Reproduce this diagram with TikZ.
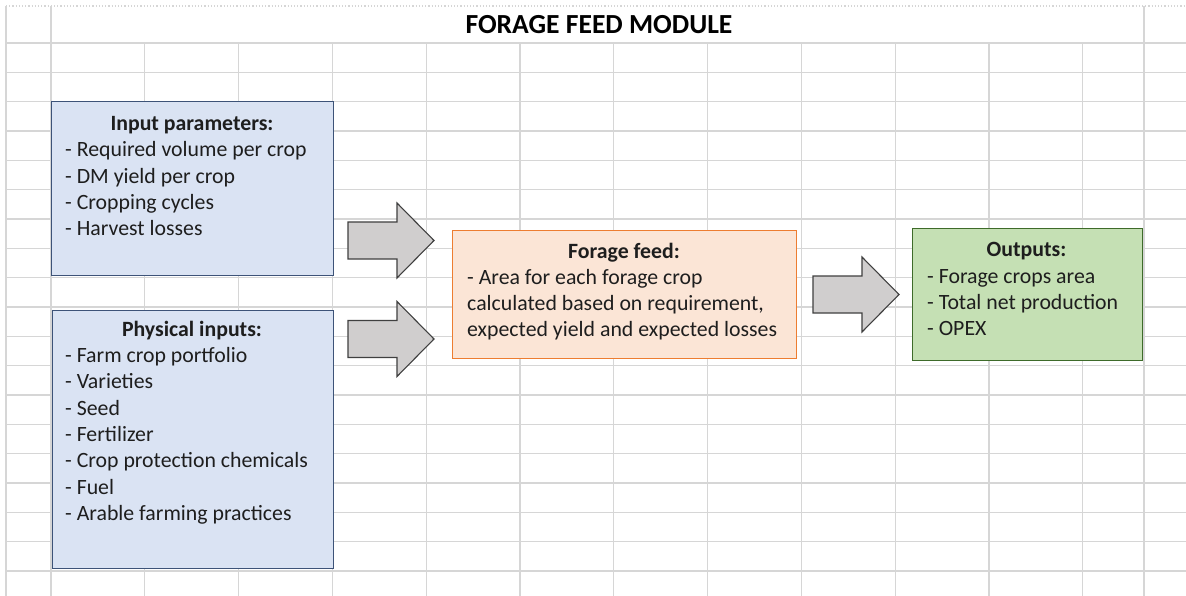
\documentclass[tikz,border=0pt]{standalone}
\usepackage{fontspec}
\setmainfont{Carlito}
\definecolor{gridc}{HTML}{D6D6D6}
\definecolor{txt}{HTML}{1E1E1E}
\definecolor{bluefill}{HTML}{DAE3F3}
\definecolor{blueline}{HTML}{3D5378}
\definecolor{orfill}{HTML}{FBE5D6}
\definecolor{orline}{HTML}{ED7D31}
\definecolor{grfill}{HTML}{C5E0B4}
\definecolor{grline}{HTML}{3E6B2A}
\definecolor{arrfill}{HTML}{D0CECE}
\definecolor{arrline}{HTML}{404040}
\tikzset{
  gridline/.style={draw=gridc, line width=1.2pt},
  boxbase/.style={rectangle, inner sep=0pt, line width=1pt},
  bluebox/.style={boxbase, fill=bluefill, draw=blueline},
  orbox/.style={boxbase, fill=orfill, draw=orline},
  grbox/.style={boxbase, fill=grfill, draw=grline},
  btitle/.style={anchor=base, inner sep=0pt, text=txt, font=\bfseries\fontsize{21.8}{26.3}\selectfont},
  maintitle/.style={anchor=base, inner sep=0pt, text=black, font=\bfseries\fontsize{27.6}{32}\selectfont},
  item/.style={anchor=base west, inner sep=0pt, text=txt, font=\fontsize{21.8}{26.3}\selectfont},
  blockarr/.style={fill=arrfill, draw=arrline, line width=1.1pt, line join=miter},
  blk/.pic={\path[blockarr] (0,-18.5) -- (49,-18.5) -- (49,-37.5) -- (86,0) -- (49,37.5) -- (49,18.5) -- (0,18.5) -- cycle;}
}
\begin{document}
\begin{tikzpicture}[x=1pt,y=-1pt]
\useasboundingbox (0,0) rectangle (1186,596);
\fill[white] (0,0) rectangle (1186,596);
% grid
\foreach \k in {0,...,18} \draw[gridline] (6,{43+29.333*\k}) -- (1186,{43+29.333*\k});
\foreach \j in {0,...,11} \draw[gridline] ({51+93.8*\j},43) -- ({51+93.8*\j},596);
\draw[gridline] (6,6) -- (6,596);
\draw[gridline] (51,6) -- (51,43);
\draw[gridline] (1144,6) -- (1144,596);
\draw[gridline, dotted] (6,6) -- (1186,6);
% title
\node[maintitle] (title) at (599,34) {FORAGE FEED MODULE};
% boxes
\node[bluebox, minimum width=282pt, minimum height=173pt] (inp) at (192,188.5) {};
\node[bluebox, minimum width=281pt, minimum height=258pt] (phy) at (192.5,439) {};
\node[orbox, minimum width=344pt, minimum height=127pt] (ff) at (624,294.5) {};
\node[grbox, minimum width=230pt, minimum height=131pt] (out) at (1027,294.5) {};
% texts
\node[btitle] (inpT) at (192,131) {Input parameters:};
\foreach \t [count=\i] in {{- Required volume per crop},{- DM yield per crop},{- Cropping cycles},{- Harvest losses}}
  \node[item] (inp-\i) at (65,{157+26.3*(\i-1)}) {\t};
\node[btitle] (phyT) at (192,336.5) {Physical inputs:};
\foreach \t [count=\i] in {{- Farm crop portfolio},{- Varieties},{- Seed},{- Fertilizer},{- Crop protection chemicals},{- Fuel},{- Arable farming practices}}
  \node[item] (phy-\i) at (65,{362.5+26.3*(\i-1)}) {\t};
\node[btitle] (ffT) at (624,258.3) {Forage feed:};
\foreach \t [count=\i] in {{- Area for each forage crop},{calculated based on requirement,},{expected yield and expected losses}}
  \node[item] (ff-\i) at (467,{284.8+26*(\i-1)}) {\t};
\node[btitle] (outT) at (1026.5,257) {Outputs:};
\foreach \t [count=\i] in {{- Forage crops area},{- Total net production},{- OPEX}}
  \node[item] (out-\i) at (927,{283.3+26*(\i-1)}) {\t};
% block arrows
\pic at (348,240.5) {blk};
\pic at (348,339) {blk};
\pic at (813,294.5) {blk};
\end{tikzpicture}
\end{document}
